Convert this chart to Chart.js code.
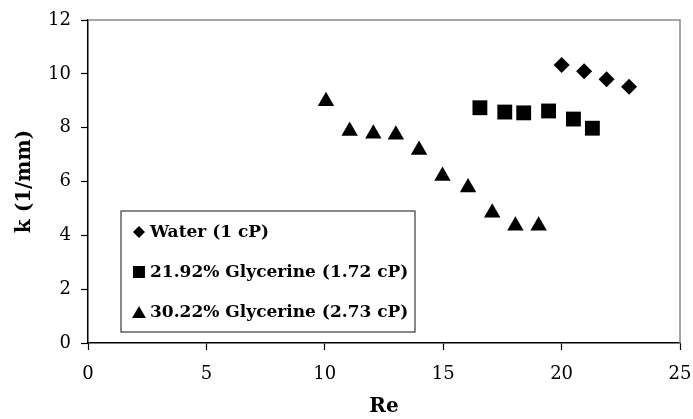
<!DOCTYPE html>
<html>
<head>
<meta charset="utf-8">
<script src="https://cdn.jsdelivr.net/npm/chart.js@4.4.1/dist/chart.umd.min.js"></script>
<style>
    html, body { margin: 0; padding: 0; background: #fff; }
    #wrap { width: 693px; height: 419px; }
</style>
</head>
<body>
<div id="wrap"><canvas id="grafica"></canvas></div>
<script>
// Datos: k contra Re para cada fluido
const etiquetas = ['Water (1 cP)', '21.92% Glycerine (1.72 cP)', '30.22% Glycerine (2.73 cP)'];

const aguaRe = [20.0, 20.95, 21.9, 22.85];
const aguaK  = [10.33, 10.1, 9.8, 9.52];

const glic22Re = [16.55, 17.6, 18.4, 19.45, 20.5, 21.3];
const glic22K  = [8.74, 8.58, 8.55, 8.62, 8.32, 7.98];

const glic30Re = [10.05, 11.05, 12.05, 13.0, 13.98, 14.97, 16.05, 17.07, 18.05, 19.03];
const glic30K  = [8.98, 7.88, 7.77, 7.74, 7.17, 6.2, 5.78, 4.84, 4.36, 4.36];

const ticksX = [0, 5, 10, 15, 20, 25];
const ticksY = [0, 2, 4, 6, 8, 10, 12];

const fuente = "'DejaVu Serif', serif";

function puntos(xs, ys) {
    return xs.map((x, i) => ({ x: x, y: ys[i] }));
}

// Borde gris arriba y a la derecha del área de trazado
const bordeArea = {
    id: 'bordeArea',
    beforeDatasetsDraw(chart) {
        const { ctx, chartArea: a } = chart;
        ctx.save();
        ctx.strokeStyle = '#8a8a8a';
        ctx.lineWidth = 1.5;
        ctx.beginPath();
        ctx.moveTo(a.left, a.top);
        ctx.lineTo(a.right, a.top);
        ctx.lineTo(a.right, a.bottom);
        ctx.stroke();
        ctx.restore();
    }
};

// Leyenda en recuadro dentro del área de trazado
const leyendaCaja = {
    id: 'leyendaCaja',
    afterDatasetsDraw(chart) {
        const { ctx, chartArea: a } = chart;
        const x0 = a.left + 33, y0 = 211, w = 294, h = 121;
        ctx.save();
        ctx.fillStyle = '#fff';
        ctx.fillRect(x0, y0, w, h);
        ctx.strokeStyle = '#3a3a3a';
        ctx.lineWidth = 1.2;
        ctx.strokeRect(x0, y0, w, h);

        ctx.font = 'bold 17px ' + fuente;
        ctx.textBaseline = 'middle';
        ctx.textAlign = 'left';
        const radios = { rectRot: 6, rect: 8.5, triangle: 8 };
        chart.data.datasets.forEach((ds, i) => {
            const y = y0 + 21 + i * 40;
            ctx.fillStyle = '#000';
            ctx.strokeStyle = '#000';
            Chart.helpers.drawPoint(ctx, {
                pointStyle: ds.pointStyle,
                radius: radios[ds.pointStyle],
                rotation: 0,
                borderWidth: 0
            }, x0 + 18, ds.pointStyle === 'triangle' ? y + 2 : y);
            ctx.fillStyle = '#000';
            ctx.fillText(ds.label, x0 + 29, y + 1);
        });
        ctx.restore();
    }
};

const ctx = document.getElementById('grafica').getContext('2d');

new Chart(ctx, {
    type: 'scatter',
    data: {
        datasets: [
            {
                label: etiquetas[0],
                data: puntos(aguaRe, aguaK),
                pointStyle: 'rectRot',
                pointRadius: 8,
                backgroundColor: '#000',
                borderColor: '#000',
                borderWidth: 0
            },
            {
                label: etiquetas[1],
                data: puntos(glic22Re, glic22K),
                pointStyle: 'rect',
                pointRadius: 10.5,
                backgroundColor: '#000',
                borderColor: '#000',
                borderWidth: 0
            },
            {
                label: etiquetas[2],
                data: puntos(glic30Re, glic30K),
                pointStyle: 'triangle',
                pointRadius: 9.5,
                backgroundColor: '#000',
                borderColor: '#000',
                borderWidth: 0
            }
        ]
    },
    options: {
        responsive: true,
        maintainAspectRatio: false,
        animation: false,
        layout: {
            padding: { top: 20, right: 13, left: 0, bottom: 0 }
        },
        scales: {
            x: {
                type: 'linear',
                min: 0,
                max: 25,
                afterBuildTicks: scale => { scale.ticks = ticksX.map(v => ({ value: v })); },
                afterFit: scale => {
                    scale.height = 76;
                    scale.paddingLeft = 0;
                    scale.paddingRight = 0;
                },
                grid: {
                    drawOnChartArea: false,
                    drawTicks: true,
                    tickLength: 7,
                    tickWidth: 1.2,
                    tickColor: '#000'
                },
                border: { display: true, color: '#000', width: 1.5 },
                ticks: {
                    color: '#000',
                    padding: 14,
                    maxRotation: 0,
                    font: { family: fuente, size: 18 }
                },
                title: {
                    display: true,
                    text: 'Re',
                    color: '#000',
                    padding: { top: 0, bottom: 0 },
                    font: { family: fuente, size: 20, weight: 'bold' }
                }
            },
            y: {
                type: 'linear',
                min: 0,
                max: 12,
                afterBuildTicks: scale => { scale.ticks = ticksY.map(v => ({ value: v })); },
                afterFit: scale => {
                    scale.width = 88;
                    scale.paddingTop = 0;
                    scale.paddingBottom = 0;
                },
                grid: {
                    drawOnChartArea: false,
                    drawTicks: true,
                    tickLength: 7,
                    tickWidth: 1.2,
                    tickColor: '#000'
                },
                border: { display: true, color: '#000', width: 1.5 },
                ticks: {
                    color: '#000',
                    padding: 10,
                    font: { family: fuente, size: 18 }
                },
                title: {
                    display: true,
                    text: 'k (1/mm)',
                    color: '#000',
                    padding: { top: 13, bottom: 0 },
                    font: { family: fuente, size: 20, weight: 'bold' }
                }
            }
        },
        plugins: {
            legend: { display: false },
            tooltip: { enabled: false }
        }
    },
    plugins: [bordeArea, leyendaCaja]
});
</script>
</body>
</html>
